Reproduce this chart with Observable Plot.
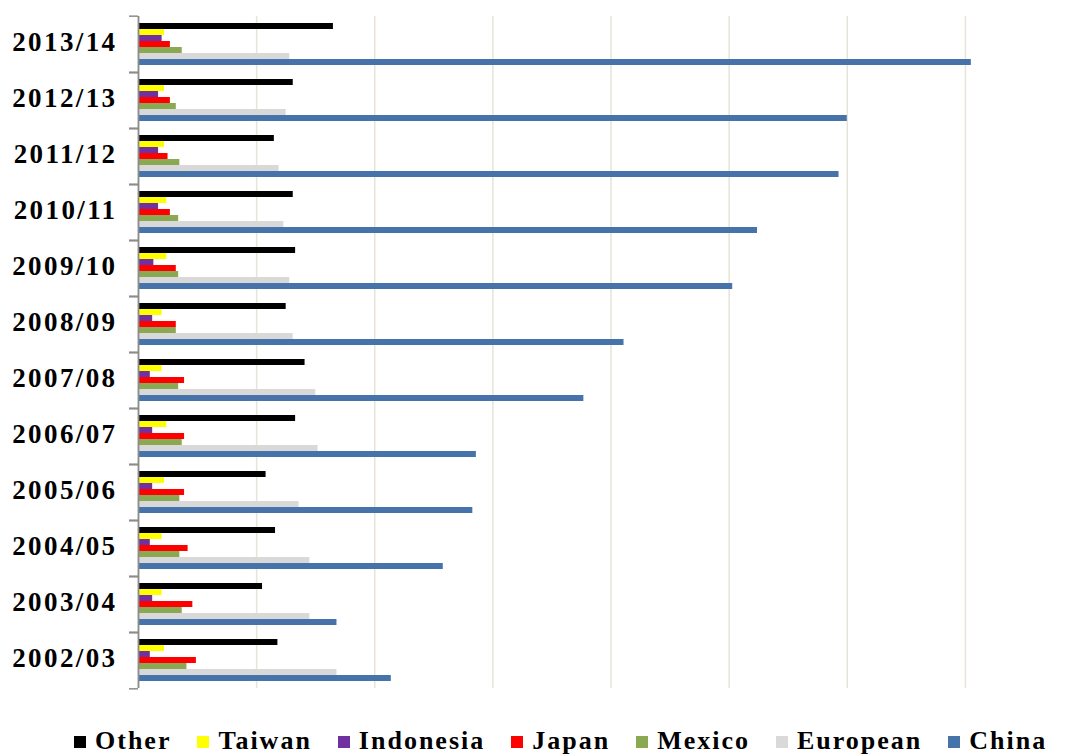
<!DOCTYPE html>
<html>
<head>
<meta charset="utf-8">
<script src="https://cdn.jsdelivr.net/npm/d3@7"></script>
<script src="https://cdn.jsdelivr.net/npm/@observablehq/plot@0.6"></script>
<style>
  html, body { margin: 0; padding: 0; background: #fff; }
  #chart svg { display: block; }
  #chart svg text { letter-spacing: 2.4px; }
  #legend {
    margin-top: 28px;
    padding-left: 74px;
    font-family: "Liberation Serif", "DejaVu Serif", serif;
    font-weight: bold;
    font-size: 26px;
    line-height: 26px;
    letter-spacing: 2px;
    white-space: nowrap;
    color: #000;
  }
  .item { display: inline-block; margin-right: 26px; }
  .sw { display: inline-block; width: 12px; height: 12px; margin-right: 9px; vertical-align: baseline; position: relative; top: -1px; }
</style>
</head>
<body>
<div id="chart"></div>
<div id="legend"></div>
<script>
const years = ["2002/03","2003/04","2004/05","2005/06","2006/07","2007/08","2008/09","2009/10","2010/11","2011/12","2012/13","2013/14"];
const seriesNames = ["Other","Taiwan","Indonesia","Japan","Mexico","European","China"];
const seriesColors = ["#000000","#FFFF00","#7030A0","#FF0000","#8BA852","#D9D9D9","#4673AA"];

const other     = [118, 105, 116, 108, 133, 141, 125, 133, 131, 115, 131, 165];
const taiwan    = [22, 20, 20, 22, 24, 20, 20, 24, 24, 22, 22, 22];
const indonesia = [10, 12, 10, 12, 12, 10, 12, 13, 17, 17, 17, 20];
const japan     = [49, 46, 42, 39, 39, 39, 32, 32, 27, 25, 27, 27];
const mexico    = [41, 37, 35, 35, 37, 34, 32, 34, 34, 35, 32, 37];
const european  = [168, 145, 145, 136, 152, 150, 131, 128, 123, 119, 125, 128];
const china     = [214, 168, 258, 283, 286, 377, 411, 503, 524, 593, 600, 705];

const xTicks = [0, 100, 200, 300, 400, 500, 600, 700];

const seriesValues = [other, taiwan, indonesia, japan, mexico, european, china];
const data = [];
seriesNames.forEach((s, i) => {
  years.forEach((y, j) => data.push({year: y, series: s, value: seriesValues[i][j]}));
});

const W = 1075, H = 700, mTop = 12, mBottom = 8;
const band = (H - mTop - mBottom) / years.length;

const plot = Plot.plot({
  width: W,
  height: H,
  marginLeft: 138,
  marginRight: 51,
  marginTop: mTop,
  marginBottom: mBottom,
  style: {fontFamily: "'Liberation Serif', 'DejaVu Serif', serif", fontSize: "27px", fontWeight: "bold", color: "#000", background: "#fff"},
  x: {domain: [0, 750], axis: null},
  y: {domain: seriesNames, paddingInner: 0, paddingOuter: 0.93, axis: null},
  fy: {domain: years.slice().reverse(), paddingInner: 0, paddingOuter: 0, label: null, axis: null},
  color: {domain: seriesNames, range: seriesColors},
  marks: [
    Plot.gridX(xTicks, {stroke: "#E7E3D6", strokeOpacity: 1, strokeWidth: 1.5}),
    Plot.barX(data, {x: "value", y: "series", fy: "year", fill: "series"}),
    Plot.ruleX([0], {stroke: "#8C8C8C", strokeWidth: 1.8}),
    Plot.axisFy({anchor: "left", tickSize: 0, tickPadding: 21, dy: -2, label: null, fill: "#000"}),
    Plot.axisFy({anchor: "left", text: null, tickSize: 9, dy: -band / 2, stroke: "#8C8C8C", strokeWidth: 1.5, label: null}),
    Plot.axisFy({anchor: "left", text: null, tickSize: 9, dy: band / 2, stroke: "#8C8C8C", strokeWidth: 1.5, label: null})
  ]
});
document.getElementById("chart").appendChild(plot);

const legend = document.getElementById("legend");
seriesNames.forEach((s, i) => {
  const item = document.createElement("span");
  item.className = "item";
  const sw = document.createElement("span");
  sw.className = "sw";
  sw.style.background = seriesColors[i];
  item.appendChild(sw);
  item.appendChild(document.createTextNode(s));
  legend.appendChild(item);
});
</script>
</body>
</html>
